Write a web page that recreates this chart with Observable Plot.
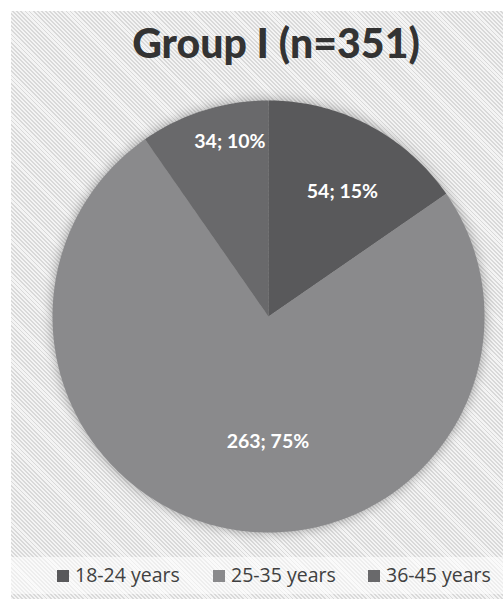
<!DOCTYPE html>
<html><head><meta charset="utf-8">
<script src="https://cdn.jsdelivr.net/npm/d3@7"></script>
<script src="https://cdn.jsdelivr.net/npm/@observablehq/plot@0.6"></script>
<style>
html,body{margin:0;padding:0;background:#fff;width:503px;height:599px;overflow:hidden;}
#wrap{position:absolute;left:11px;top:11px;width:492px;height:588px;
 background:repeating-linear-gradient(45deg,#f4f4f4 0px,#f4f4f4 1.6px,#d9d9d9 1.6px,#d9d9d9 2.9px);}
#title{position:absolute;left:8px;top:7px;width:514px;text-align:center;font-family:Lato,"Open Sans",sans-serif;font-weight:900;font-size:41px;color:#333;letter-spacing:0px;}
#chart{position:absolute;left:0;top:69px;}
#chart g[aria-label="line"]{filter:drop-shadow(0 0 6px rgba(0,0,0,0.35));}
#legend{position:absolute;left:0;top:546px;width:492px;height:37px;background:rgba(255,255,255,0.55);
 font-family:"Open Sans",sans-serif;font-size:19.5px;color:#404040;}
.item{position:absolute;top:4px;white-space:nowrap;}
.sw{display:inline-block;width:12px;height:12px;margin-right:6px;vertical-align:0px;}
</style></head>
<body>
<div id="wrap">
<div id="title"></div>
<div id="chart"></div>
<div id="legend"></div>
</div>
<script>
const title = "Group I (n=351)";
const categories = ["18-24 years", "25-35 years", "36-45 years"];
const counts = [54, 263, 34];
const percents = [15, 75, 10];
const colors = ["#59595b", "#8a8a8c", "#69696b"];
const labelRadius = [0.67, 0.58, 0.83];
const labelAngleShift = [3, -10, 5]; // degrees, Excel best-fit offset

document.getElementById("title").textContent = title;

const pie = d3.pie().sort(null).value(d => d)(counts);
const poly = [];
pie.forEach((p, i) => {
  const n = Math.max(8, Math.ceil((p.endAngle - p.startAngle) * 60));
  poly.push({cat: categories[i], x: 0, y: 0});
  for (let k = 0; k <= n; k++) {
    const a = p.startAngle + (p.endAngle - p.startAngle) * k / n;
    poly.push({cat: categories[i], x: Math.sin(a), y: Math.cos(a)});
  }
  poly.push({cat: categories[i], x: 0, y: 0});
});
const labels = pie.map((p, i) => {
  const a = (p.startAngle + p.endAngle) / 2 + labelAngleShift[i] * Math.PI / 180;
  return {x: labelRadius[i] * Math.sin(a), y: labelRadius[i] * Math.cos(a),
          text: `${counts[i]}; ${percents[i]}%`};
});

const W = 492, H = 475, cx = 257, cy = 236, R = 216;
const plot = Plot.plot({
  width: W, height: H, margin: 0,
  style: {background: "transparent", overflow: "visible"},
  x: {domain: [-cx / R, (W - cx) / R], axis: null},
  y: {domain: [-(H - cy) / R, cy / R], axis: null},
  color: {domain: categories, range: colors},
  marks: [
    Plot.line(poly, {x: "x", y: "y", z: "cat", fill: "cat", stroke: "none", curve: "linear"}),
    Plot.text(labels, {x: "x", y: "y", text: "text", fill: "white", fontSize: 19.5, fontWeight: "bold",
      fontFamily: "Lato, 'Open Sans', sans-serif"})
  ]
});
document.getElementById("chart").appendChild(plot);

const legendX = [46, 202, 357];
const lg = document.getElementById("legend");
categories.forEach((c, i) => {
  const d = document.createElement("div");
  d.className = "item";
  d.style.left = legendX[i] + "px";
  d.innerHTML = `<span class="sw" style="background:${colors[i]}"></span>${c}`;
  lg.appendChild(d);
});
</script>
</body></html>
